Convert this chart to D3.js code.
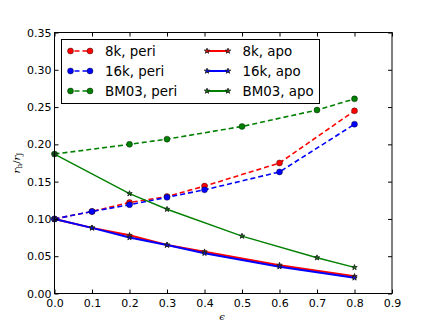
<!DOCTYPE html>
<html>
<head>
<meta charset="utf-8">
<script src="https://cdn.jsdelivr.net/npm/d3@7"></script>
<style>
  body { margin: 0; background: #fff; }
  svg { display: block; font-family: "DejaVu Sans", sans-serif; }
</style>
</head>
<body>
<svg id="chart" width="436" height="327"></svg>
<script>
// data
const epsSim = [0, 0.1, 0.2, 0.3, 0.4, 0.6, 0.8];
const epsBM = [0, 0.2, 0.3, 0.5, 0.7, 0.8];
const peri8k = [0.100, 0.110, 0.122, 0.130, 0.144, 0.175, 0.245];
const peri16k = [0.100, 0.110, 0.119, 0.129, 0.139, 0.163, 0.227];
const periBM = [0.187, 0.200, 0.207, 0.224, 0.246, 0.261];
const apo8k = [0.100, 0.088, 0.078, 0.065, 0.056, 0.038, 0.023];
const apo16k = [0.100, 0.088, 0.075, 0.065, 0.054, 0.036, 0.021];
const apoBM = [0.187, 0.134, 0.113, 0.077, 0.048, 0.035];
const xTicks = [0, 0.1, 0.2, 0.3, 0.4, 0.5, 0.6, 0.7, 0.8, 0.9];
const yTicks = [0, 0.05, 0.1, 0.15, 0.2, 0.25, 0.3, 0.35];

const series = [
  { name: "8k, peri", x: epsSim, y: peri8k, color: "#ff0000", dash: true, marker: "circle" },
  { name: "16k, peri", x: epsSim, y: peri16k, color: "#0000ff", dash: true, marker: "circle" },
  { name: "BM03, peri", x: epsBM, y: periBM, color: "#008000", dash: true, marker: "circle" },
  { name: "8k, apo", x: epsSim, y: apo8k, color: "#ff0000", dash: false, marker: "star" },
  { name: "16k, apo", x: epsSim, y: apo16k, color: "#0000ff", dash: false, marker: "star" },
  { name: "BM03, apo", x: epsBM, y: apoBM, color: "#008000", dash: false, marker: "star" },
];

const mLeft = 54.5, mRight = 392, mTop = 32.5, mBottom = 293.5;
const svg = d3.select("#chart");
const x = d3.scaleLinear().domain([0, 0.9]).range([mLeft, mRight]);
const y = d3.scaleLinear().domain([0, 0.35]).range([mBottom, mTop]);

const star = d3.symbol().type(d3.symbolStar).size(9);

// lines
const line = d3.line().x(d => x(d[0])).y(d => y(d[1]));
series.forEach(s => {
  const pts = s.x.map((v, i) => [v, s.y[i]]);
  svg.append("path")
    .attr("d", line(pts))
    .attr("fill", "none")
    .attr("stroke", s.color)
    .attr("stroke-width", s.dash ? 1.6 : (s.color === "#008000" ? 1.4 : 2))
    .attr("stroke-dasharray", s.dash ? "5,3" : null);
});
// markers
series.forEach(s => {
  const g = svg.append("g");
  s.x.forEach((v, i) => {
    if (s.marker === "circle") {
      g.append("circle").attr("cx", x(v)).attr("cy", y(s.y[i])).attr("r", 3)
        .attr("fill", s.color).attr("stroke", "#000").attr("stroke-width", 0.4);
    } else {
      g.append("path").attr("d", star())
        .attr("transform", `translate(${x(v)},${y(s.y[i])})`)
        .attr("fill", s.color).attr("stroke", "#222").attr("stroke-width", 0.9);
    }
  });
});

// frame
svg.append("rect").attr("x", mLeft).attr("y", mTop)
  .attr("width", mRight - mLeft).attr("height", mBottom - mTop)
  .attr("fill", "none").attr("stroke", "#000").attr("stroke-width", 1);

// ticks (inside, all sides)
const axB = d3.axisBottom(x).tickValues(xTicks).tickSize(-4).tickPadding(6).tickFormat(d3.format(".1f"));
const axT = d3.axisTop(x).tickValues(xTicks).tickSize(-4).tickFormat("");
const axL = d3.axisLeft(y).tickValues(yTicks).tickSize(-4).tickPadding(3).tickFormat(d3.format(".2f"));
const axR = d3.axisRight(y).tickValues(yTicks).tickSize(-4).tickFormat("");
[[axB, `translate(0,${mBottom})`], [axT, `translate(0,${mTop})`],
 [axL, `translate(${mLeft},0)`], [axR, `translate(${mRight},0)`]].forEach(([ax, t]) => {
  const g = svg.append("g").attr("transform", t).call(ax);
  g.select(".domain").remove();
  g.selectAll("text").attr("font-size", 11).attr("fill", "#000")
    .attr("font-family", "DejaVu Sans");
});

// axis labels
svg.append("text").attr("x", 222).attr("y", 320).attr("text-anchor", "middle")
  .attr("font-size", 10).attr("font-style", "italic").attr("font-family", "DejaVu Serif").text("ϵ");
const yl = svg.append("text").attr("transform", "translate(20,163) rotate(-90)")
  .attr("text-anchor", "middle").attr("font-size", 10).attr("font-style", "italic")
  .attr("font-family", "DejaVu Serif");
yl.append("tspan").text("r");
yl.append("tspan").attr("font-size", 7.5).attr("dy", 2).attr("font-style", "normal").text("h");
yl.append("tspan").attr("dy", -2).attr("font-style", "normal").text("/");
yl.append("tspan").text("r");
yl.append("tspan").attr("font-size", 7.5).attr("dy", 2).attr("font-style", "normal").text("J");

// legend
const lg = svg.append("g");
lg.append("rect").attr("x", 61.5).attr("y", 39.5).attr("width", 258).attr("height", 64)
  .attr("fill", "#fff").attr("stroke", "#000").attr("stroke-width", 1);
series.forEach((s, i) => {
  const col = Math.floor(i / 3), row = i % 3;
  const x0 = col === 0 ? 70.5 : 207, x1 = col === 0 ? 90 : 228;
  const ty = 51 + row * 20;
  lg.append("line").attr("x1", x0).attr("x2", x1).attr("y1", ty).attr("y2", ty)
    .attr("stroke", s.color).attr("stroke-width", s.dash ? 1.6 : 2)
    .attr("stroke-dasharray", s.dash ? "5,3" : null)
    .attr("stroke-dashoffset", s.dash ? -4 : null);
  [x0, x1].forEach(px => {
    if (s.marker === "circle") {
      lg.append("circle").attr("cx", px).attr("cy", ty).attr("r", 3)
        .attr("fill", s.color).attr("stroke", "#000").attr("stroke-width", 0.4);
    } else {
      lg.append("path").attr("d", star()).attr("transform", `translate(${px},${ty})`)
        .attr("fill", s.color).attr("stroke", "#222").attr("stroke-width", 0.9);
    }
  });
  lg.append("text").attr("x", col === 0 ? 105 : 242.5).attr("y", ty + 5)
    .attr("font-size", 13.4).text(s.name);
});
</script>
</body>
</html>
